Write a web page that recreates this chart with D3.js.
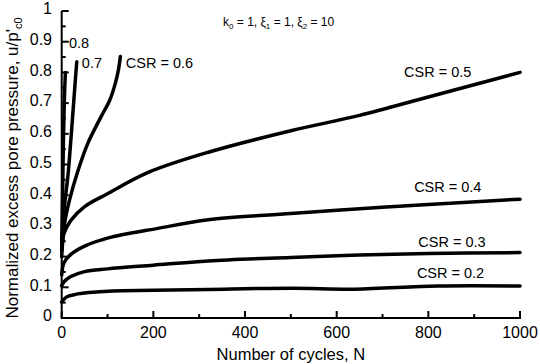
<!DOCTYPE html>
<html>
<head>
<meta charset="utf-8">
<script src="https://cdn.jsdelivr.net/npm/d3@7"></script>
<style>
  body { margin: 0; background: #fff; }
  svg { display: block; font-family: "Liberation Sans", Arial, sans-serif; }
  .curve { fill: none; stroke: #000; stroke-width: 3.5; stroke-linejoin: round; stroke-linecap: round; }
  .axis-line { stroke: #000; stroke-width: 2; }
  .tick { stroke: #000; stroke-width: 2; }
</style>
</head>
<body>
<svg id="chart" width="540" height="364"></svg>
<script>
/* data: [N, u/p'c0] */
const csr02 = [[0, 0.052], [10, 0.068], [30, 0.077], [60, 0.083], [110, 0.088], [200, 0.09], [320, 0.093], [500, 0.097], [640, 0.094], [820, 0.104], [1000, 0.104]];
const csr03 = [[0, 0.105], [5, 0.118], [20, 0.135], [50, 0.151], [100, 0.16], [200, 0.172], [320, 0.186], [500, 0.197], [650, 0.205], [800, 0.21], [1000, 0.213]];
const csr04 = [[0, 0.14], [5, 0.18], [20, 0.207], [50, 0.234], [100, 0.26], [210, 0.292], [320, 0.32], [500, 0.34], [650, 0.356], [800, 0.37], [1000, 0.387]];
const csr05 = [[0, 0.22], [5, 0.275], [20, 0.318], [50, 0.363], [100, 0.405], [190, 0.475], [320, 0.54], [500, 0.61], [650, 0.66], [800, 0.72], [1000, 0.80]];
const csr06 = [[0, 0.2], [6, 0.305], [17, 0.384], [36, 0.482], [57, 0.569], [86, 0.656], [105, 0.71], [118, 0.77], [124, 0.81], [128, 0.852]];
const csr07 = [[0, 0.25], [6, 0.363], [14, 0.47], [21, 0.6], [28, 0.74], [31, 0.8], [33, 0.835]];
const csr08 = [[0, 0.22], [2, 0.4], [4, 0.6], [6, 0.72], [8, 0.8]];
const series = [csr02, csr03, csr04, csr05, csr06, csr07, csr08];

const xMajor = [0, 200, 400, 600, 800, 1000];
const xMinor = [100, 300, 500, 700, 900];
const yMajor = [0, 0.1, 0.2, 0.3, 0.4, 0.5, 0.6, 0.7, 0.8, 0.9, 1];
const yMinor = [0.05, 0.15, 0.25, 0.35, 0.45, 0.55, 0.65, 0.75, 0.85, 0.95];

// curve labels: [text, N, u]
const labels = [
  ["CSR = 0.5", 747, 0.785],
  ["CSR = 0.4", 769, 0.41],
  ["CSR = 0.3", 778, 0.231],
  ["CSR = 0.2", 775, 0.13],
  ["CSR = 0.6", 140, 0.814],
  ["0.7", 44, 0.814],
  ["0.8", 16, 0.879]
];

const svg = d3.select("#chart");
const x = d3.scaleLinear().domain([0, 1000]).range([61.7, 520]);
const y = d3.scaleLinear().domain([0, 1]).range([318, 11]);

// axes lines
svg.append("line").attr("class", "axis-line")
  .attr("x1", x(0)).attr("x2", x(1000) + 1).attr("y1", y(0)).attr("y2", y(0));
svg.append("line").attr("class", "axis-line")
  .attr("x1", x(0)).attr("x2", x(0)).attr("y1", y(0) + 1).attr("y2", y(1));

// x ticks (inward)
svg.selectAll(".xmaj").data(xMajor).enter().append("line").attr("class", "tick")
  .attr("x1", d => x(d)).attr("x2", d => x(d)).attr("y1", y(0)).attr("y2", y(0) - 7);
svg.selectAll(".xmin").data(xMinor).enter().append("line").attr("class", "tick")
  .attr("x1", d => x(d)).attr("x2", d => x(d)).attr("y1", y(0)).attr("y2", y(0) - 4);
svg.selectAll(".xlab").data(xMajor).enter().append("text")
  .attr("x", d => x(d)).attr("y", 338).attr("text-anchor", "middle")
  .style("font-size", "16px").text(d => d);

// y ticks (inward)
svg.selectAll(".ymaj").data(yMajor).enter().append("line").attr("class", "tick")
  .attr("x1", x(0)).attr("x2", x(0) + 7).attr("y1", d => y(d)).attr("y2", d => y(d));
svg.selectAll(".ymin").data(yMinor).enter().append("line").attr("class", "tick")
  .attr("x1", x(0)).attr("x2", x(0) + 4).attr("y1", d => y(d)).attr("y2", d => y(d));
svg.selectAll(".ylab").data(yMajor).enter().append("text")
  .attr("x", 52).attr("y", d => y(d) + 3.3).attr("text-anchor", "end")
  .style("font-size", "16px").text(d => d3.format("")(d));

// curves
const line = d3.line().curve(d3.curveCatmullRom.alpha(0.5)).x(d => x(d[0])).y(d => y(d[1]));
svg.selectAll(".curve").data(series).enter().append("path")
  .attr("class", "curve").attr("d", line);

// curve labels
svg.selectAll(".clab").data(labels).enter().append("text")
  .attr("x", d => x(d[1])).attr("y", d => y(d[2]))
  .style("font-size", "14.5px").text(d => d[0]);

// parameter note
const note = svg.append("text").attr("x", 223).attr("y", 25.5).style("font-size", "12px");
note.append("tspan").text("k");
note.append("tspan").attr("dy", 3).style("font-size", "8px").text("0");
note.append("tspan").attr("dy", -3).text(" = 1, \u03be");
note.append("tspan").attr("dy", 3).style("font-size", "8px").text("1");
note.append("tspan").attr("dy", -3).text(" = 1, \u03be");
note.append("tspan").attr("dy", 3).style("font-size", "8px").text("2");
note.append("tspan").attr("dy", -3).text(" = 10");

// axis titles
svg.append("text").attr("x", x(500)).attr("y", 360).attr("text-anchor", "middle")
  .style("font-size", "16.5px").text("Number of cycles, N");

const yt = svg.append("text").attr("transform", "translate(17.5,168) rotate(-90)")
  .attr("text-anchor", "middle").style("font-size", "17px");
yt.append("tspan").text("Normalized excess pore pressure, u/p'");
yt.append("tspan").attr("dy", 4).style("font-size", "11px").text("c0");
</script>
</body>
</html>
